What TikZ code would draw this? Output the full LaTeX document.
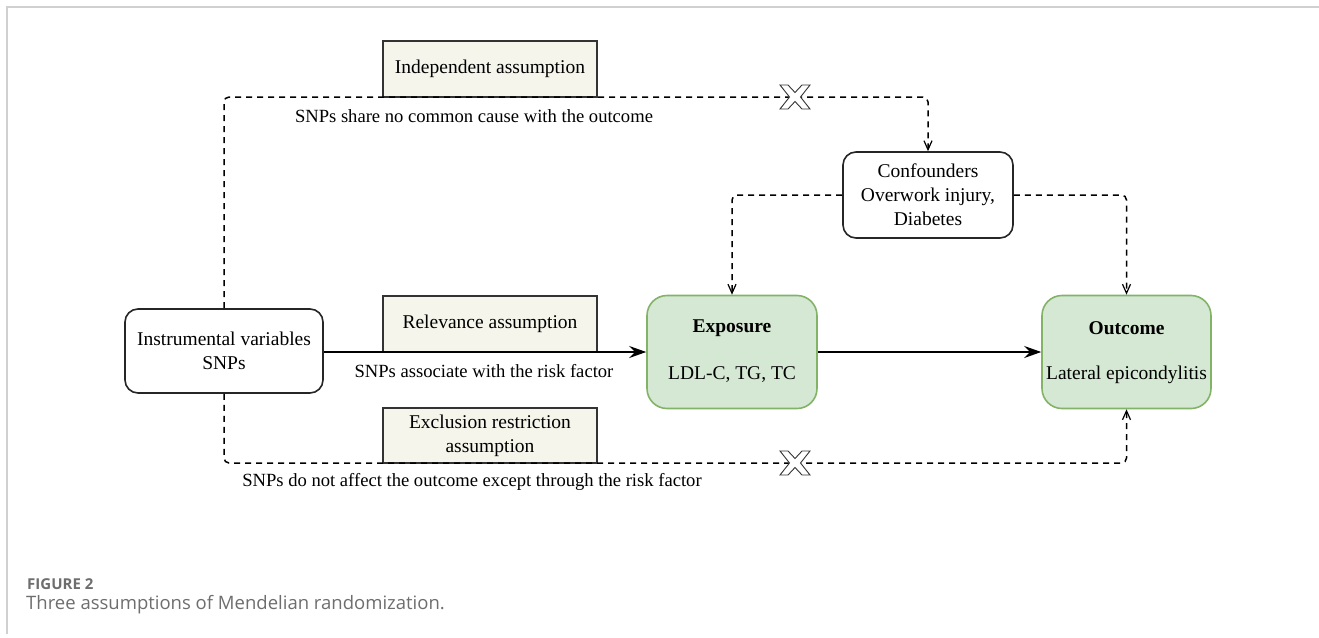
\documentclass[tikz,border=0pt]{standalone}
\usepackage{fontspec}
\setmainfont{Liberation Serif}
\newfontfamily\capfont{Open Sans}
\usetikzlibrary{arrows.meta}
\definecolor{boxgreen}{HTML}{D5E8D4}
\definecolor{greenline}{HTML}{82B366}
\definecolor{beige}{HTML}{F5F5EC}
\definecolor{framegray}{HTML}{D0D0D0}
\definecolor{capgray}{HTML}{6E6E6E}
\begin{document}
\begin{tikzpicture}[x=1pt,y=-1pt,
 every node/.style={font=\fontsize{19.5}{24}\selectfont, inner sep=0pt},
 lbl/.style={font=\fontsize{18.6}{22}\selectfont},
 plainbox/.style={draw=black!85, line width=1.6pt, rounded corners=13pt, fill=white, align=center},
 greenbox/.style={draw=greenline, line width=1.6pt, rounded corners=20pt, fill=boxgreen, minimum width=170pt, minimum height=113pt},
 assume/.style={draw=black!80, line width=1.3pt, fill=beige, align=center, minimum width=214pt},
 dashline/.style={line width=1.5pt, dash pattern=on 6pt off 5pt, rounded corners=5pt},
 openhead/.style={-{Straight Barb[length=9pt,width=8pt,line width=1.2pt]}},
 solidarrow/.style={line width=1.6pt, -{Stealth[length=17pt,width=12pt,inset=6pt]}},
 xmark/.style={fill=white, draw=black!80, line width=0.9pt}]
\useasboundingbox (0,0) rectangle (1319,637);
\fill[white] (0,0) rectangle (1319,637);
\draw[framegray, line width=1.5pt] (1319,7) -- (7,7) -- (7,634);

% main boxes
\node[plainbox, minimum width=198pt, minimum height=84pt] (iv) at (224,351) {Instrumental variables\\SNPs};
\node[greenbox] (expo) at (732,352) {};
\node[font=\fontsize{19.5}{24}\selectfont\bfseries] (expot) at (732,328) {Exposure};
\node (expob) at (732,375) {LDL-C, TG, TC};
\node[greenbox, minimum width=169pt] (out) at (1126.5,352) {};
\node[font=\fontsize{19.5}{24}\selectfont\bfseries] (outt) at (1126.5,328) {Outcome};
\node (outb) at (1126.5,375) {Lateral epicondylitis};
\node[plainbox, minimum width=170pt, minimum height=86pt] (conf) at (928,195) {Confounders\\Overwork injury,\\Diabetes};

% assumption boxes
\node[assume, minimum height=56pt] (indep) at (490,69) {Independent assumption};
\node[assume, minimum height=56pt] (relev) at (490,324) {Relevance assumption};
\node[assume, minimum height=55pt] (excl) at (490,435.5) {Exclusion restriction\\assumption};

% corner coordinates
\coordinate (tl) at (224,97);
\coordinate (tr) at (928,97);
\coordinate (bl) at (224,463);
\coordinate (br) at (1126.5,463);

% connectors
\draw[dashline, openhead] (iv.north) -- (tl) -- (tr) -- (conf.north);
\draw[dashline, openhead] (iv.south) -- (bl) -- (br) -- (out.south);
\draw[dashline, openhead] (conf.west) -| (expo.north);
\draw[dashline, openhead] (conf.east) -| (out.north);
\draw[solidarrow] (iv.east |- 0,352) -- (expo.west);
\draw[solidarrow] (expo.east) -- (out.west);

% X marks
\foreach \cy in {97,463}{
  \draw[xmark] (795-15,\cy-12) -- (795-7,\cy-12) -- (795,\cy-4.5) -- (795+7,\cy-12) -- (795+15,\cy-12)
    -- (795+5.5,\cy) -- (795+15,\cy+12) -- (795+7,\cy+12) -- (795,\cy+4.5) -- (795-7,\cy+12)
    -- (795-15,\cy+12) -- (795-5.5,\cy) -- cycle;
}

% labels
\node[lbl] (lab1) at (474,116) {SNPs share no common cause with the outcome};
\node[lbl] (lab2) at (484,371) {SNPs associate with the risk factor};
\node[lbl] (lab3) at (472,482) {SNPs do not affect the outcome except through the risk factor};

% caption
\node[anchor=west, text=capgray, font=\capfont\bfseries\fontsize{15}{17}\selectfont] (fig) at (27,584) {FIGURE 2};
\node[anchor=west, text=capgray, font=\capfont\fontsize{18.5}{21}\selectfont] (cap) at (26,605) {Three assumptions of Mendelian randomization.};
\end{tikzpicture}
\end{document}
